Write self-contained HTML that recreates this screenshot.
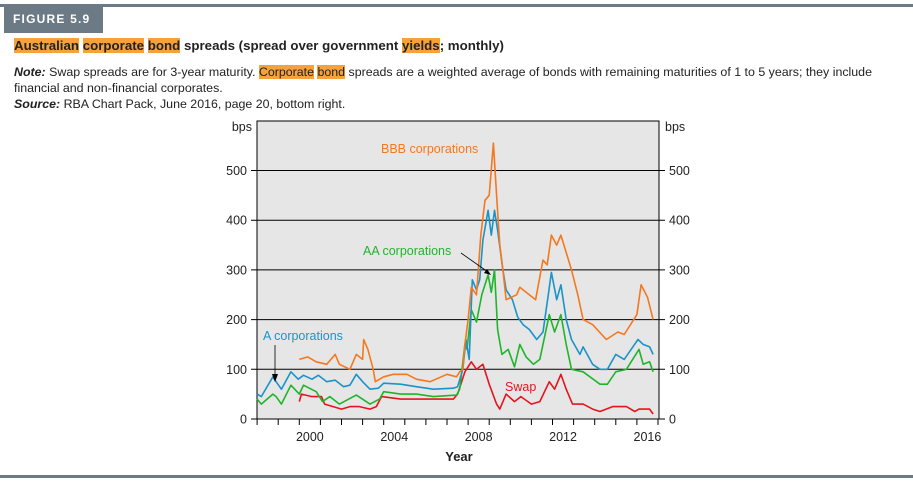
<!DOCTYPE html>
<html><head><meta charset="utf-8"><style>
body{margin:0;width:913px;height:488px;background:#fff;font-family:"Liberation Sans",sans-serif;position:relative;overflow:hidden}
.bar{position:absolute;left:0;top:4px;width:913px;height:3px;background:#6b7a84}
.fig{position:absolute;left:4px;top:5px;width:99px;height:28px;background:#6b7a84;color:#fff;font-weight:bold;font-size:12px;letter-spacing:1.2px;line-height:28px;text-indent:9px;white-space:nowrap;overflow:hidden}
.hl{background:#f7a13a}
.title{position:absolute;left:14px;top:38px;font-size:13.3px;font-weight:bold;color:#222;white-space:nowrap}
.note{position:absolute;left:14px;top:64px;font-size:12.4px;line-height:16px;color:#222;width:890px}
.rule{position:absolute;left:0;top:475px;width:913px;height:3px;background:#6b7a84}
</style></head><body>
<div class="bar"></div>
<div class="fig">FIGURE 5.9</div>
<div class="title"><span class="hl">Australian</span> <span class="hl">corporate</span> <span class="hl">bond</span> spreads (spread over government <span class="hl">yields</span>; monthly)</div>
<div class="note"><b><i>Note:</i></b> Swap spreads are for 3-year maturity. <span class="hl">Corporate</span> <span class="hl">bond</span> spreads are a weighted average of bonds with remaining maturities of 1 to 5 years; they include financial and non-financial corporates.<br><b><i>Source:</i></b> RBA Chart Pack, June 2016, page 20, bottom right.</div>
<svg id="chart" width="913" height="488" style="position:absolute;left:0;top:0" font-family="Liberation Sans, sans-serif"></svg>
<div class="rule"></div>
<script>
const yTicks=[0,100,200,300,400,500];
const xLabels=[2000,2004,2008,2012,2016];
const bbbT=[2000,2000.4,2000.8,2001.3,2001.7,2001.9,2002.4,2002.7,2003.0,2003.05,2003.25,2003.5,2003.6,2004,2004.45,2005.1,2005.55,2006.2,2007,2007.45,2007.6,2007.75,2007.85,2008,2008.15,2008.4,2008.6,2008.8,2009,2009.2,2009.35,2009.5,2009.65,2009.8,2010.3,2010.45,2011.2,2011.55,2011.75,2011.95,2012.2,2012.4,2012.9,2013.2,2013.45,2013.9,2014.55,2015.1,2015.4,2016,2016.2,2016.5,2016.77];
const bbbV=[120,125,115,110,130,110,100,130,120,160,140,100,75,85,90,90,80,75,90,85,95,100,150,200,265,250,370,440,450,555,450,350,300,240,250,265,240,320,310,370,350,370,300,250,200,190,160,175,170,210,270,245,200];
const aT=[1998,1998.2,1998.75,1998.9,1999.15,1999.6,1999.95,2000.2,2000.6,2000.9,2001.3,2001.7,2002.1,2002.4,2002.7,2003,2003.35,2003.75,2004,2004.8,2005.55,2006.35,2007.3,2007.5,2007.75,2007.9,2008.05,2008.2,2008.4,2008.55,2008.7,2008.95,2009.1,2009.25,2009.4,2009.65,2009.8,2010.1,2010.35,2010.6,2010.9,2011.25,2011.55,2011.8,2011.95,2012.2,2012.4,2012.65,2012.9,2013.3,2013.45,2013.9,2014.25,2014.6,2015,2015.4,2016.05,2016.3,2016.6,2016.77];
const aV=[50,45,85,75,60,95,80,88,80,88,75,78,65,68,90,75,60,62,72,70,65,60,62,65,100,160,120,280,260,280,360,420,370,420,380,300,260,240,205,190,180,160,175,250,295,240,270,200,160,130,145,110,100,100,130,120,160,150,145,130];
const aaT=[1998,1998.2,1998.75,1998.9,1999.15,1999.6,2000,2000.2,2000.8,2001.1,2001.45,2001.9,2002.7,2003.35,2003.8,2004,2004.8,2005.55,2006.35,2007.45,2007.6,2007.85,2007.95,2008.15,2008.4,2008.65,2008.95,2009.1,2009.25,2009.4,2009.6,2009.9,2010.2,2010.45,2010.75,2011.1,2011.4,2011.85,2012.1,2012.4,2012.65,2012.9,2013.45,2014.25,2014.6,2015,2015.5,2016.1,2016.3,2016.6,2016.77];
const aaV=[40,30,50,45,30,68,50,68,55,35,45,30,48,30,40,55,50,50,45,48,60,150,140,220,195,250,290,255,300,180,130,140,105,150,125,110,120,210,175,210,150,100,95,70,70,95,100,140,110,115,95];
const swT=[2000,2000.1,2000.6,2001.05,2001.2,2001.6,2002,2002.4,2002.85,2003.35,2003.65,2003.9,2004.8,2005.55,2006.35,2007.3,2007.5,2007.85,2008.15,2008.4,2008.7,2009,2009.35,2009.5,2009.8,2010.2,2010.5,2011,2011.4,2011.85,2012.1,2012.4,2012.65,2012.95,2013.45,2013.9,2014.25,2014.85,2015.5,2015.9,2016.1,2016.6,2016.77];
const swV=[35,50,45,45,30,25,20,25,25,20,25,45,40,40,40,40,50,95,115,100,110,70,30,20,50,35,45,30,35,75,60,90,60,30,30,20,15,25,25,15,20,20,10];
const L=257,R=659,T=121,B=419;
const x=t=>299.3+(t-2000)*21.1;
const y=v=>B-v*0.497;
const svg=document.getElementById('chart');
const NS='http://www.w3.org/2000/svg';
function mk(tag,at,parent){const e=document.createElementNS(NS,tag);for(const k in at)e.setAttribute(k,at[k]);(parent||svg).appendChild(e);return e;}
function txt(s,at){const e=mk('text',at);e.textContent=s;return e;}
const bg=mk('rect',{x:L,y:T,width:R-L,height:B-T,fill:'#e6e6e6',stroke:'#000','stroke-width':1});


yTicks.forEach(v=>{
 const g=mk('line',{x1:L-6,x2:R+6,y1:y(v),y2:y(v),stroke:'#000','stroke-width':1});
 
 
 const a=txt(v,{x:L-10,y:y(v)+4.5,'text-anchor':'end','font-size':12.5,fill:'#222'});
 
 
 const b=txt(v,{x:R+10,y:y(v)+4.5,'font-size':12.5,fill:'#222'});
 
 
});
for(let yr=1998;yr<=2017;yr++){
 const tk=mk('line',{x1:x(yr),x2:x(yr),y1:B,y2:B+6,stroke:'#000'});
 
 
}
xLabels.forEach(yr=>{
 const t=txt(yr,{x:x(yr+0.5),y:B+22,'text-anchor':'middle','font-size':12.5,fill:'#222'});
 
 
});
const u1=txt('bps',{x:252,y:131,'text-anchor':'end','font-size':12.5,fill:'#222'});


const u2=txt('bps',{x:665,y:131,'font-size':12.5,fill:'#222'});


const xt=txt('Year',{x:459,y:461,'text-anchor':'middle','font-size':13,'font-weight':'bold',fill:'#222'});


function line(T_,V,col,name){
 const d=T_.map((t,i)=>(i?'L':'M')+x(t).toFixed(1)+','+y(V[i]).toFixed(1)).join('');
 const p=mk('path',{d:d,fill:'none',stroke:col,'stroke-width':1.6,'stroke-linejoin':'round'});
 
 
}
line(swT,swV,'#e8141c','swap-line');
line(aaT,aaV,'#1fb52b','aa-line');
line(aT,aV,'#1a94c8','a-line');
line(bbbT,bbbV,'#f5781e','bbb-line');
const l1=txt('BBB corporations',{x:381,y:153,'font-size':12.5,fill:'#f5781e'});


const l2=txt('AA corporations',{x:363,y:255,'font-size':12.5,fill:'#1fb52b'});


const l3=txt('A corporations',{x:263,y:340,'font-size':12.5,fill:'#1a94c8'});


const l4=txt('Swap',{x:505,y:391,'font-size':12.5,fill:'#e8141c'});


const ar1=mk('line',{x1:461,y1:253,x2:488,y2:272,stroke:'#000','stroke-width':0.8});


const h1=mk('path',{d:'M491,275 L484,273 L487,269 Z',fill:'#000'});


const ar2=mk('line',{x1:275,y1:345,x2:275,y2:376,stroke:'#000','stroke-width':0.8});


const h2=mk('path',{d:'M275,382 L272,374 L278,374 Z',fill:'#000'});


</script>
</body></html>
